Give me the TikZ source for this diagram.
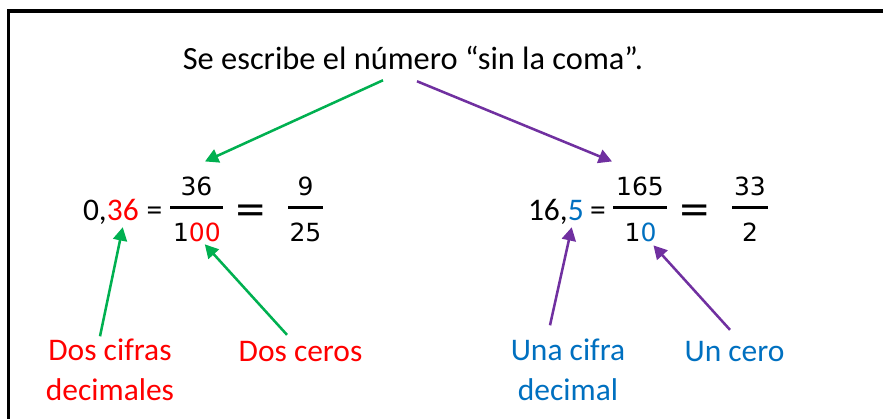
\documentclass[tikz,border=0pt]{standalone}
\usepackage{fontspec}
\setmainfont{Carlito}
\newfontfamily\fracfont{DejaVu Sans}
\usetikzlibrary{arrows.meta,calc,positioning}
\definecolor{grn}{RGB}{0,176,80}
\definecolor{purp}{RGB}{112,48,160}
\definecolor{blu}{RGB}{0,112,192}
\tikzset{every picture/.style={line width=0.75pt}}
\tikzset{
  txt/.style={inner sep=0pt, outer sep=0pt, font=\fontsize{23.6}{29.3}\selectfont},
  frc/.style={inner sep=0pt, outer sep=0pt, font=\fracfont\fontsize{18.75}{22}\selectfont},
  bigeq/.style={inner sep=0pt, outer sep=0pt, font=\fracfont\fontsize{29}{30}\selectfont},
  fbar/.style={line width=2.25pt},
  grnarr/.style={draw=grn, line width=1.9pt, -{Triangle[length=10pt,width=10.5pt]}},
  purarr/.style={draw=purp, line width=1.9pt, -{Triangle[length=10pt,width=10.5pt]}}
}

\begin{document}
\begin{tikzpicture}[x=0.75pt,y=0.75pt,yscale=-1,xscale=1]
	\useasboundingbox (0,0) rectangle (883,419);

	%Shape: Frame
	\draw [line width=2.6pt] (883,11) -- (8.5,11) -- (8.5,419) ;

	% Text Node
	\node [txt, anchor=base, font=\fontsize{24.3}{29.3}\selectfont] (title) at (413,69) {Se escribe el número “sin la coma”.};

	% Text Node
	\node [txt, anchor=base west] (intA) at (83,220) {0,};
	\node [txt, anchor=base west, text=red] (decA) at (intA.base east) {36};
	% Text Node
	\node [txt, anchor=base] (eqA) at (154.5,220) {=};
	% Text Node
	\node [frc, anchor=base] (numA) at (196.5,195) {36};
	\draw [fbar] (170,207) -- (223,207) ;
	\node [frc, anchor=base west] (oneA) at (173,241) {1};
	\node [frc, anchor=base west, text=red] (zA) at (oneA.base east) {00};
	% Text Node
	\node [bigeq, anchor=base] (bigeqA) at (250.5,222) {=};
	% Text Node
	\node [frc, anchor=base] (numA2) at (305.5,195) {9};
	\draw [fbar] (288,207) -- (323,207) ;
	\node [frc, anchor=base] (denA2) at (305.5,241) {25};

	% Text Node
	\node [txt, anchor=base west] (intB) at (528,220) {16,};
	\node [txt, anchor=base west, text=blu] (decB) at (intB.base east) {5};
	% Text Node
	\node [txt, anchor=base] (eqB) at (598,220) {=};
	% Text Node
	\node [frc, anchor=base] (numB) at (640,195) {165};
	\draw [fbar] (613,207) -- (667,207) ;
	\node [frc, anchor=base west] (oneB) at (624.6,241) {1};
	\node [frc, anchor=base west, text=blu] (zB) at (oneB.base east) {0};
	% Text Node
	\node [bigeq, anchor=base] (bigeqB) at (694.5,222) {=};
	% Text Node
	\node [frc, anchor=base] (numB2) at (750,195) {33};
	\draw [fbar] (732,207) -- (768,207) ;
	\node [frc, anchor=base] (denB2) at (750,241) {2};

	% Text Node
	\node [txt, anchor=base, align=center, text=red] (lblA) at (110,400) {Dos cifras\\decimales};
	% Text Node
	\node [txt, anchor=base, text=red] (lblB) at (300.5,361) {Dos ceros};
	% Text Node
	\node [txt, anchor=base, align=center, text=blu] (lblC) at (568,400) {Una cifra\\decimal};
	% Text Node
	\node [txt, anchor=base, text=blu] (lblD) at (734.5,361) {Un cero};

	%Straight Lines
	\draw [grnarr] ($(title.south)+(-30,11)$) -- ($(numA.north)+(8.5,-15)$) ;
	\draw [purarr] ($(title.south)+(4,12)$) -- ($(numB.north)+(-28,-15)$) ;
	%Straight Lines
	\draw [grnarr] ($(lblA.north)+(-10,-3)$) -- ($(decA.south)+(0,7)$) ;
	\draw [grnarr] ($(lblB.north)+(-13.5,-6)$) -- ($(zA.south)+(0,3)$) ;
	\draw [purarr] ($(lblC.north)+(-18,-14)$) -- ($(decB.south)+(-4,7)$) ;
	\draw [purarr] ($(lblD.north)+(-4.5,-11)$) -- ($(zB.south)+(5,4)$) ;

\end{tikzpicture}
\end{document}
